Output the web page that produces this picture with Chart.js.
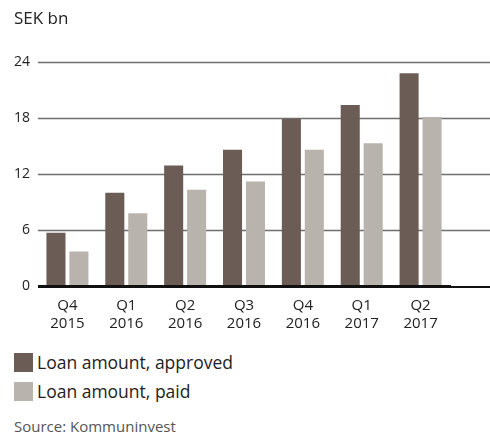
<!DOCTYPE html>
<html>
<head>
<meta charset="utf-8">
<script src="https://cdn.jsdelivr.net/npm/chart.js@4/dist/chart.umd.min.js"></script>
<style>
  body { margin: 0; background: #fff; font-family: "Open Sans", sans-serif; color: #222; }
  #wrap { position: relative; width: 490px; height: 434px; }
  #unit { position: absolute; left: 14px; top: 6px; font-size: 17px; }
  #chartBox { position: absolute; left: 0; top: 0; width: 490px; height: 336px; }
  .legend { position: absolute; left: 14px; font-size: 17.5px; display: flex; align-items: center; }
  .legend span.box { display: inline-block; width: 19px; height: 19px; margin-right: 4px; }
  #source { position: absolute; left: 14px; top: 416px; font-size: 15px; color: #555; }
</style>
</head>
<body>
<div id="wrap">
  <div id="chartBox"><canvas id="loanChart"></canvas></div>
  <div id="unit">SEK bn</div>
  <div class="legend" style="top:350px"><span class="box" style="background:#6b5d55"></span>Loan amount, approved</div>
  <div class="legend" style="top:379px"><span class="box" style="background:#b8b3ad"></span>Loan amount, paid</div>
  <div id="source">Source: Kommuninvest</div>
</div>
<script>
const quarters = [["Q4", "2015"], ["Q1", "2016"], ["Q2", "2016"], ["Q3", "2016"], ["Q4", "2016"], ["Q1", "2017"], ["Q2", "2017"]];
const approved = [5.7, 10.0, 12.9, 14.6, 17.9, 19.4, 22.8];
const paid = [3.7, 7.8, 10.3, 11.2, 14.6, 15.3, 18.1];
const yTicks = [0, 6, 12, 18, 24];

// horizontal grid runs past the last bar group to the right edge
const gridPlugin = {
  id: 'fullGrid',
  beforeDatasetsDraw(chart) {
    const ctx = chart.ctx;
    const y = chart.scales.y;
    const left = chart.chartArea.left;
    ctx.save();
    yTicks.forEach(v => {
      const py = Math.round(y.getPixelForValue(v));
      if (v === 0) return;
      ctx.strokeStyle = '#6e6e6e';
      ctx.lineWidth = 1.5;
      ctx.beginPath();
      ctx.moveTo(left, py + 0.5);
      ctx.lineTo(chart.width, py + 0.5);
      ctx.stroke();
    });
    ctx.restore();
  },
  afterDatasetsDraw(chart) {
    const ctx = chart.ctx;
    const py = Math.round(chart.scales.y.getPixelForValue(0));
    ctx.save();
    ctx.fillStyle = '#111';
    ctx.fillRect(chart.chartArea.left, py - 1, chart.chartArea.right - chart.chartArea.left + 1, 3);
    ctx.fillRect(chart.chartArea.right, py, chart.width - chart.chartArea.right, 2);
    ctx.restore();
  }
};

new Chart(document.getElementById('loanChart'), {
  type: 'bar',
  data: {
    labels: quarters,
    datasets: [
      { label: 'Loan amount, approved', data: approved, backgroundColor: '#6b5d55' },
      { label: 'Loan amount, paid', data: paid, backgroundColor: '#b8b3ad' }
    ]
  },
  options: {
    responsive: true,
    maintainAspectRatio: false,
    animation: false,
    layout: { padding: { top: 62, right: 40, left: 0, bottom: 0 } },
    datasets: { bar: { categoryPercentage: 0.78, barPercentage: 0.83 } },
    plugins: { legend: { display: false }, tooltip: { enabled: false } },
    scales: {
      x: {
        grid: { display: false, drawTicks: false },
        border: { display: false },
        ticks: { color: '#222', padding: 11, maxRotation: 0, font: { family: 'Open Sans', size: 15, lineHeight: 1.2 } },
        afterFit(scale) { scale.height = 50; }
      },
      y: {
        min: 0, max: 24,
        afterBuildTicks(scale) { scale.ticks = yTicks.map(v => ({ value: v })); },
        grid: { display: false, drawTicks: false },
        border: { display: false },
        ticks: { color: '#222', padding: 8, font: { family: 'Open Sans', size: 14 } },
        afterFit(scale) { scale.width = 38; }
      }
    }
  },
  plugins: [gridPlugin]
});
</script>
</body>
</html>
